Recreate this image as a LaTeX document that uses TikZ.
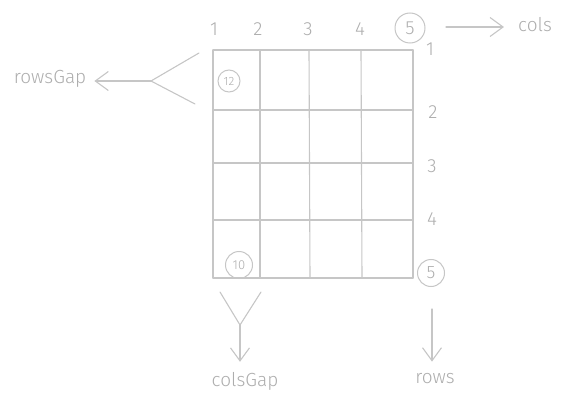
\documentclass[tikz,border=0pt]{standalone}
\usepackage{fontspec}
\setmainfont{Fira Sans}[UprightFont={* Light}]
\usetikzlibrary{arrows.meta}
\definecolor{sk}{HTML}{C6C6C6}
\definecolor{tx}{HTML}{ADADAD}
\begin{document}
\begin{tikzpicture}[x=1pt,y=-1pt,
  line/.style={draw=sk,line width=1.1pt,line cap=round},
  arr/.style={line,-{Straight Barb[length=13pt,width=19pt,line width=1.1pt]}},
  lbl/.style={text=tx,font=\fontsize{19}{22}\selectfont,inner sep=0pt},
  circ/.style={draw=sk,line width=1pt,circle,text=tx,inner sep=0pt}]
\useasboundingbox (0,0) rectangle (563,404);
% grid
\draw[line] (213,50) -- (413,50);
\draw[line] (213,110) -- (413,110);
\draw[line] (213,163) -- (413,163);
\draw[line] (213,220) -- (413,220);
\draw[line] (213,278) -- (413,278);
\draw[line] (213,50) -- (213,278);
\draw[line] (260,50) -- (260,278);
\draw[line] (309,50) -- (310,278);
\draw[line] (361,50) -- (362,278);
\draw[line] (413,50) -- (413,278);
% column labels
\node[lbl] (c1) at (214,29) {1};
\node[lbl] (c2) at (258,29) {2};
\node[lbl] (c3) at (308,29) {3};
\node[lbl] (c4) at (360,29) {4};
\node[circ,minimum size=30pt,font=\fontsize{19}{22}\selectfont] (c5) at (410,28) {5};
\node[lbl] (cols) at (535,25) {cols};
\coordinate (colsA) at (446,27);
\draw[arr] (colsA) -- ([xshift=-14pt]cols.west |- colsA);
% row labels
\node[lbl] (r1) at (430,49) {1};
\node[lbl] (r2) at (433,112) {2};
\node[lbl] (r3) at (432,166) {3};
\node[lbl] (r4) at (432,219) {4};
\node[circ,minimum size=27pt,font=\fontsize{18}{22}\selectfont] (r5) at (431,273) {5};
% circled numbers
\node[circ,minimum size=22pt,font=\fontsize{12}{14}\selectfont] (n12) at (229,81) {12};
\node[circ,minimum size=27pt,font=\fontsize{13}{15}\selectfont] (n10) at (239,265) {10};
% rowsGap
\node[lbl] (rg) at (50,79) {rowsGap};
\coordinate (rgFork) at (151,81);
\coordinate (rgT) at (199,53);
\coordinate (rgB) at (195,104);
\draw[line] (rgT) -- (rgFork) -- (rgB);
\draw[arr] (rgFork) -- ([xshift=8pt]rg.east |- rgFork);
% colsGap
\node[lbl] (cg) at (245,381) {colsGap};
\coordinate (cgFork) at (240,325);
\coordinate (cgL) at (220,292);
\coordinate (cgR) at (261,292);
\draw[line] (cgL) -- (cgFork) -- (cgR);
\draw[arr] (cgFork) -- ([yshift=10pt]cg.north -| cgFork);
% rows
\node[lbl] (rw) at (435,379) {rows};
\coordinate (rwA) at (432,309);
\draw[arr] (rwA) -- ([yshift=12pt]rw.north -| rwA);
\end{tikzpicture}
\end{document}
